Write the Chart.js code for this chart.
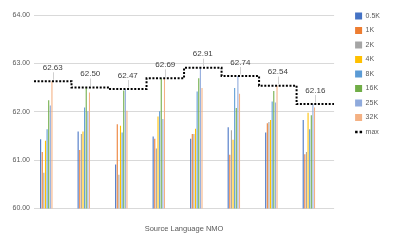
<!DOCTYPE html>
<html>
<head>
<meta charset="utf-8">
<script src="https://cdn.jsdelivr.net/npm/chart.js@4"></script>
<style>
  html, body { margin: 0; padding: 0; background: #ffffff; }
  #wrap { width: 397px; height: 245px; position: relative; }
</style>
</head>
<body>
<div id="wrap"><canvas id="c" width="397" height="245"></canvas></div>
<script>
// ---- data ----
const categories = ['L1', 'L2', 'L3', 'L4', 'L5', 'L6', 'L7', 'L8'];
const seriesNames = ['0.5K', '1K', '2K', '4K', '8K', '16K', '25K', '32K'];
const s05K = [61.43, 61.59, 60.91, 61.49, 61.44, 61.68, 61.57, 61.83];
const s1K  = [61.17, 61.21, 61.74, 61.44, 61.54, 61.11, 61.76, 61.12];
const s2K  = [60.74, 61.54, 60.70, 61.24, 61.54, 61.62, 61.79, 61.17];
const s4K  = [61.40, 61.59, 61.71, 61.90, 61.65, 61.42, 61.83, 61.98];
const s8K  = [61.64, 62.09, 61.57, 62.01, 62.42, 62.49, 62.21, 61.64];
const s16K = [62.24, 62.50, 62.44, 62.69, 62.69, 62.08, 62.43, 61.93];
const s25K = [62.13, 62.01, 62.47, 61.85, 62.91, 62.74, 62.19, 62.16];
const s32K = [62.63, 62.40, 62.02, 62.69, 62.49, 62.37, 62.54, 62.09];
const maxValues = [62.63, 62.50, 62.47, 62.69, 62.91, 62.74, 62.54, 62.16];
const yTicks = [60, 61, 62, 63, 64];

const seriesValues = [s05K, s1K, s2K, s4K, s8K, s16K, s25K, s32K];
const colors = ['#4472C4', '#ED7D31', '#A5A5A5', '#FFC000', '#5B9BD5', '#70AD47', '#8FAADC', '#F4B183'];
const FONT = '"Liberation Sans", Arial, sans-serif';

const datasets = seriesNames.map((n, i) => ({
  type: 'bar',
  label: n,
  data: seriesValues[i],
  backgroundColor: colors[i],
  borderWidth: 0,
  pointStyle: 'rect',
  categoryPercentage: 0.69,
  barPercentage: 0.66,
  order: 1
}));

// stepped max line spanning each category slot
const maxPoints = maxValues.map((v, i) => ({ x: i - 0.5, y: v }));
maxPoints.push({ x: maxValues.length - 0.5, y: maxValues[maxValues.length - 1] });
datasets.push({
  type: 'line',
  label: 'max',
  data: maxPoints,
  xAxisID: 'xm',
  yAxisID: 'y',
  stepped: 'before',
  borderColor: '#000000',
  backgroundColor: '#000000',
  borderWidth: 2,
  borderDash: [2, 1.6],
  pointRadius: 0,
  pointStyle: 'line',
  fill: false,
  order: 0
});

const labelPlugin = {
  id: 'maxLabels',
  afterDatasetsDraw(chart) {
    const ctx = chart.ctx;
    const xs = chart.scales.x, ys = chart.scales.y;
    ctx.save();
    ctx.font = '8px ' + FONT;
    ctx.fillStyle = '#404040';
    ctx.textAlign = 'center';
    ctx.textBaseline = 'middle';
    maxValues.forEach((v, i) => {
      const x = xs.getPixelForValue(i);
      const yLine = ys.getPixelForValue(v);
      const yText = yLine - 13.5;
      ctx.strokeStyle = '#D0D0D0';
      ctx.lineWidth = 1;
      ctx.beginPath();
      ctx.moveTo(Math.round(x) + 0.5, yText + 4.5);
      ctx.lineTo(Math.round(x) + 0.5, yLine - 1.5);
      ctx.stroke();
      ctx.fillText(v.toFixed(2), x, yText);
    });
    ctx.restore();
  }
};

new Chart(document.getElementById('c'), {
  data: { labels: categories, datasets },
  plugins: [labelPlugin],
  options: {
    responsive: false,
    animation: false,
    devicePixelRatio: 1,
    layout: { padding: { top: 5, right: 7, bottom: 10, left: 0 } },
    plugins: {
      tooltip: { enabled: false },
      title: { display: true, text: ' ', font: { size: 1 }, padding: { top: 0, bottom: 8.8 } },
      legend: {
        position: 'right',
        align: 'start',
        labels: {
          usePointStyle: true,
          pointStyleWidth: 7,
          boxWidth: 7,
          boxHeight: 7,
          padding: 7.5,
          color: '#595959',
          font: { size: 7, family: FONT },
          sort: (a, b) => a.datasetIndex - b.datasetIndex,
          generateLabels: chart => {
            const items = Chart.defaults.plugins.legend.labels.generateLabels(chart);
            items.forEach(it => {
              if (it.text === 'max') { it.lineDash = [2.5, 2]; it.lineWidth = 2.5; }
            });
            return items;
          }
        }
      }
    },
    scales: {
      x: {
        type: 'category',
        offset: true,
        grid: { display: false, drawTicks: false },
        border: { display: false },
        ticks: { display: false },
        title: { display: true, text: 'Source Language NMO', color: '#595959', font: { size: 7.5, family: FONT }, padding: { top: 15.5, bottom: 2 } }
      },
      xm: {
        type: 'linear',
        display: false,
        min: -0.5,
        max: categories.length - 0.5
      },
      y: {
        min: yTicks[0],
        max: yTicks[yTicks.length - 1],
        afterBuildTicks: s => { s.ticks = yTicks.map(v => ({ value: v })); },
        afterFit: s => { s.width = 34; },
        grid: { color: '#D9D9D9', lineWidth: 1, drawTicks: false },
        border: { display: false },
        ticks: { color: '#595959', font: { size: 7, family: FONT }, padding: 4, callback: v => Number(v).toFixed(2) }
      },
      yr: {
        position: 'right',
        display: true,
        min: 0, max: 1,
        grid: { display: false, drawTicks: false },
        border: { display: false },
        ticks: { display: false },
        afterFit: s => { s.width = 13.5; }
      }
    }
  }
});
</script>
</body>
</html>
